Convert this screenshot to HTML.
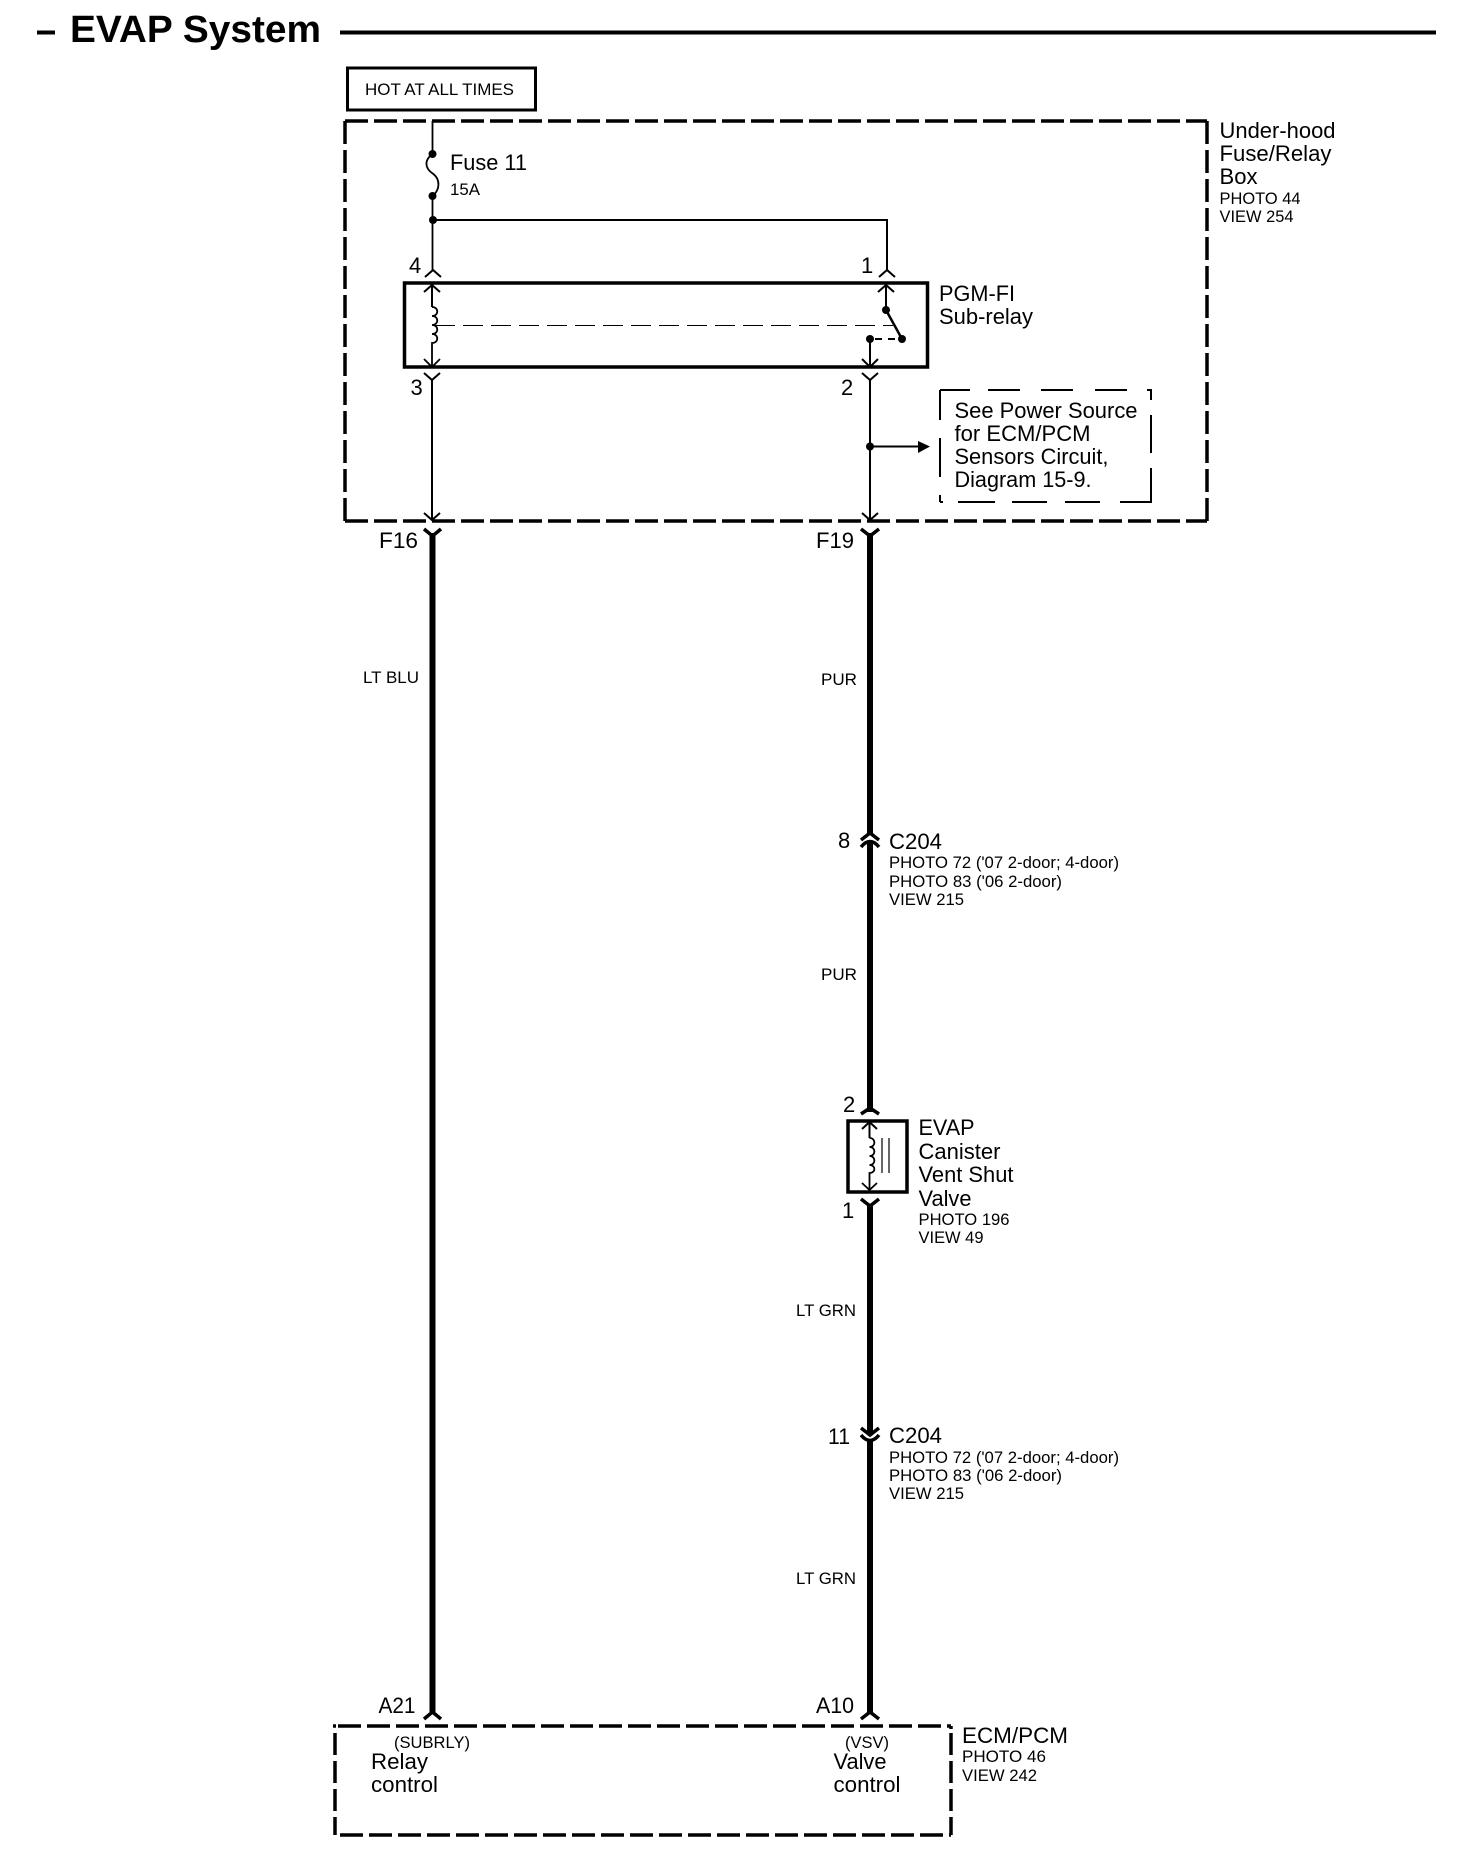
<!DOCTYPE html>
<html><head><meta charset="utf-8"><title>EVAP System</title>
<style>
html,body{margin:0;padding:0;background:#fff}
svg{display:block}
text{font-family:"Liberation Sans",sans-serif;fill:#000;white-space:pre}
.m{font-size:22px}.s{font-size:16.5px}
.n{fill:none;stroke:#000}
</style></head><body>
<svg width="1472" height="1856" viewBox="0 0 1472 1856" xmlns="http://www.w3.org/2000/svg">
<rect width="1472" height="1856" fill="#fff"/>
<!-- title -->
<path class="n" stroke-width="4" d="M37 32.5H55M340 32.5H1436"/>
<text x="70" y="42" font-size="38" font-weight="700" textLength="251" lengthAdjust="spacingAndGlyphs">EVAP System</text>
<!-- hot box -->
<rect class="n" stroke-width="3" x="347.5" y="68" width="188" height="42"/>
<text class="s" x="365" y="95" textLength="149" lengthAdjust="spacingAndGlyphs">HOT AT ALL TIMES</text>
<!-- big dashed box -->
<g class="n" stroke-width="3.5" stroke-dasharray="23 6">
<path d="M345 121H1207"/><path d="M345 121V521"/><path d="M345 521H1207"/><path d="M1207 121V521"/>
<path d="M338 1726H951"/><path d="M340 1835H951"/>
</g>
<g class="n" stroke-width="3.5" stroke-dasharray="22 6">
<path d="M335 1733V1835"/><path d="M951 1733V1835"/>
</g>
<path class="n" stroke-width="3.5" d="M333 1726H336M951 1726V1729"/>
<!-- fuse and top wiring -->
<path class="n" stroke-width="1.8" d="M432.5 121V154C424 160 425 168 432 173C441 179 440 190 432.5 196V270"/>
<path class="n" stroke-width="2" d="M433 220H887V270"/>
<circle cx="432.5" cy="154" r="4"/><circle cx="432.5" cy="196" r="4"/><circle cx="433" cy="220" r="4"/>
<text class="m" x="450" y="170" textLength="77" lengthAdjust="spacingAndGlyphs">Fuse 11</text>
<text class="s" x="450" y="195" textLength="30" lengthAdjust="spacingAndGlyphs">15A</text>
<!-- connector chevrons -->
<path class="n" stroke-width="2" d="M425 277L433 270L441 277M879 277L887 270L895 277"/>
<text class="m" x="409" y="273">4</text><text class="m" x="861" y="273">1</text>
<!-- relay -->
<rect class="n" stroke-width="3.5" x="404.5" y="283" width="523" height="84"/>
<path class="n" stroke-width="2" d="M424 292L432 285L440 292M432 285V307"/>
<path class="n" stroke-width="1.8" d="M432 307C439 307 439 316 432 316C439 316 439 325 432 325C439 325 439 334 432 334C439 334 439 343 432 343V367M424 359L432 367L440 359"/>
<path class="n" stroke-width="1" stroke-dasharray="20 8" d="M435 325.5H893"/>
<path class="n" stroke-width="2" d="M878 292L886 285L894 292M886 285V310"/>
<path class="n" stroke-width="2.5" d="M886 310L902 339"/>
<circle cx="886" cy="310" r="4"/><circle cx="902" cy="339" r="4"/><circle cx="870" cy="339" r="4"/>
<path class="n" stroke-width="2" stroke-dasharray="7 6" d="M875 339H897"/>
<path class="n" stroke-width="2" d="M870 339V367M862 359L870 367L878 359"/>
<text class="m" x="939" y="301" textLength="76" lengthAdjust="spacingAndGlyphs">PGM-FI</text>
<text class="m" x="939" y="324" textLength="94" lengthAdjust="spacingAndGlyphs">Sub-relay</text>
<!-- lower relay wires -->
<path class="n" stroke-width="2" d="M424 373L432 380L440 373M432 380V520M424 513L432 520L440 513"/>
<path class="n" stroke-width="2" d="M862 373L870 380L878 373M870 380V520M862 513L870 520L878 513"/>
<text class="m" x="410.5" y="395">3</text><text class="m" x="841" y="395">2</text>
<!-- branch to see-box -->
<circle cx="870" cy="446.5" r="4"/>
<path class="n" stroke-width="2" d="M870 446.5H920"/>
<path d="M918 441L930 446.5L918 453Z"/>
<path class="n" stroke-width="2" d="M940 390H970M988 390H1020M1041 390H1073M1095 390H1127M1147 390H1152M940 390V420M940 438V477M940 495V502M1151 390V400M1151 415V453M1151 468V502M940 502H943M958 502H995M1012 502H1047M1065 502H1100M1120 502H1152"/>
<text class="m" x="954.5" y="418" textLength="183" lengthAdjust="spacingAndGlyphs">See Power Source</text>
<text class="m" x="954.5" y="441" textLength="136" lengthAdjust="spacingAndGlyphs">for ECM/PCM</text>
<text class="m" x="954.5" y="464" textLength="154" lengthAdjust="spacingAndGlyphs">Sensors Circuit,</text>
<text class="m" x="954.5" y="487" textLength="137" lengthAdjust="spacingAndGlyphs">Diagram 15-9.</text>
<!-- box labels -->
<text class="m" x="1219.5" y="138" textLength="116" lengthAdjust="spacingAndGlyphs">Under-hood</text>
<text class="m" x="1219.5" y="161" textLength="112" lengthAdjust="spacingAndGlyphs">Fuse/Relay</text>
<text class="m" x="1219.5" y="184" textLength="38" lengthAdjust="spacingAndGlyphs">Box</text>
<text class="s" x="1219.5" y="204" textLength="81" lengthAdjust="spacingAndGlyphs">PHOTO 44</text>
<text class="s" x="1219.5" y="222" textLength="74" lengthAdjust="spacingAndGlyphs">VIEW 254</text>
<!-- thick wires -->
<g class="n" stroke-width="6">
<path d="M432.5 533V1712"/>
<path d="M870 533V833M870 842V1112M870 1204V1435M870 1441V1712"/>
</g>
<g class="n" stroke-width="3.5">
<path d="M424 529L432.5 536L441 529M861 529L870 536L879 529"/>
<path d="M424 1719L432.5 1712L441 1719M861 1719L870 1712L879 1719"/>
<path d="M861 840L870 833L879 840M861 847Q870 836 879 847"/>
<path d="M861 1114L870 1108L879 1114"/>
<path d="M861 1199L870 1206L879 1199"/>
<path d="M861 1428L870 1435L879 1428M861 1435Q870 1446 879 1435"/>
</g>
<text class="m" x="379" y="548" textLength="39" lengthAdjust="spacingAndGlyphs">F16</text>
<text class="m" x="816" y="548" textLength="38" lengthAdjust="spacingAndGlyphs">F19</text>
<text class="s" x="363" y="683" textLength="56" lengthAdjust="spacingAndGlyphs">LT BLU</text>
<text class="s" x="821" y="685" textLength="36" lengthAdjust="spacingAndGlyphs">PUR</text>
<text class="s" x="821" y="980" textLength="36" lengthAdjust="spacingAndGlyphs">PUR</text>
<text class="s" x="796" y="1316" textLength="60" lengthAdjust="spacingAndGlyphs">LT GRN</text>
<text class="s" x="796" y="1584" textLength="60" lengthAdjust="spacingAndGlyphs">LT GRN</text>
<!-- C204 upper -->
<text class="m" x="838" y="848">8</text>
<text class="m" x="889" y="849" textLength="53" lengthAdjust="spacingAndGlyphs">C204</text>
<text class="s" x="889" y="868" textLength="230" lengthAdjust="spacingAndGlyphs">PHOTO 72 ('07 2-door; 4-door)</text>
<text class="s" x="889" y="887" textLength="173" lengthAdjust="spacingAndGlyphs">PHOTO 83 ('06 2-door)</text>
<text class="s" x="889" y="905" textLength="75" lengthAdjust="spacingAndGlyphs">VIEW 215</text>
<!-- EVAP valve -->
<text class="m" x="843" y="1112">2</text>
<rect class="n" stroke-width="3.5" x="848" y="1121" width="59" height="71"/>
<path class="n" stroke-width="2" d="M862 1129L869.5 1122L877 1129M869.5 1122V1138"/>
<path class="n" stroke-width="1.8" d="M869.5 1138C876 1138 876 1147 869.5 1147C876 1147 876 1156 869.5 1156C876 1156 876 1165 869.5 1165C876 1165 876 1173 869.5 1173V1190M862 1183L869.5 1190L877 1183"/>
<path class="n" stroke-width="1.2" d="M882 1138V1173M889 1138V1173"/>
<text class="m" x="842" y="1218">1</text>
<text class="m" x="918.5" y="1135" textLength="56" lengthAdjust="spacingAndGlyphs">EVAP</text>
<text class="m" x="918.5" y="1159" textLength="82" lengthAdjust="spacingAndGlyphs">Canister</text>
<text class="m" x="918.5" y="1182" textLength="95" lengthAdjust="spacingAndGlyphs">Vent Shut</text>
<text class="m" x="918.5" y="1206" textLength="53" lengthAdjust="spacingAndGlyphs">Valve</text>
<text class="s" x="918.5" y="1225" textLength="91" lengthAdjust="spacingAndGlyphs">PHOTO 196</text>
<text class="s" x="918.5" y="1243" textLength="65" lengthAdjust="spacingAndGlyphs">VIEW 49</text>
<!-- C204 lower -->
<text class="m" x="828" y="1444" textLength="22" lengthAdjust="spacingAndGlyphs">11</text>
<text class="m" x="889" y="1443" textLength="53" lengthAdjust="spacingAndGlyphs">C204</text>
<text class="s" x="889" y="1463" textLength="230" lengthAdjust="spacingAndGlyphs">PHOTO 72 ('07 2-door; 4-door)</text>
<text class="s" x="889" y="1481" textLength="173" lengthAdjust="spacingAndGlyphs">PHOTO 83 ('06 2-door)</text>
<text class="s" x="889" y="1499" textLength="75" lengthAdjust="spacingAndGlyphs">VIEW 215</text>
<!-- ECM -->
<text class="m" x="378.5" y="1713" textLength="37" lengthAdjust="spacingAndGlyphs">A21</text>
<text class="m" x="816" y="1713" textLength="38" lengthAdjust="spacingAndGlyphs">A10</text>
<text class="s" x="394" y="1748" textLength="76" lengthAdjust="spacingAndGlyphs">(SUBRLY)</text>
<text class="m" x="371" y="1769" textLength="57" lengthAdjust="spacingAndGlyphs">Relay</text>
<text class="m" x="371" y="1792" textLength="67" lengthAdjust="spacingAndGlyphs">control</text>
<text class="s" x="845" y="1748" textLength="44" lengthAdjust="spacingAndGlyphs">(VSV)</text>
<text class="m" x="833.5" y="1769" textLength="53" lengthAdjust="spacingAndGlyphs">Valve</text>
<text class="m" x="833.5" y="1792" textLength="67" lengthAdjust="spacingAndGlyphs">control</text>
<text class="m" x="962" y="1743" textLength="106" lengthAdjust="spacingAndGlyphs">ECM/PCM</text>
<text class="s" x="962" y="1762" textLength="84" lengthAdjust="spacingAndGlyphs">PHOTO 46</text>
<text class="s" x="962" y="1781" textLength="75" lengthAdjust="spacingAndGlyphs">VIEW 242</text>
</svg>
</body></html>
